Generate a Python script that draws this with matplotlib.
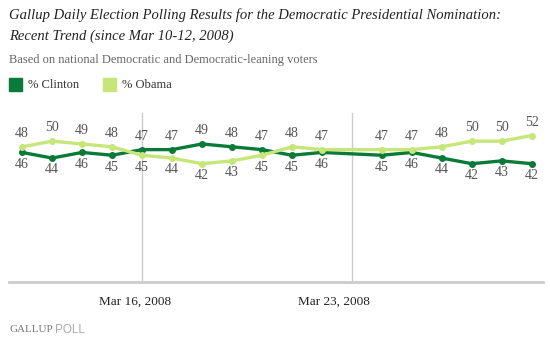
import datetime as dt

import matplotlib
matplotlib.use("Agg")
import matplotlib.pyplot as plt
import matplotlib.dates as mdates
import matplotlib.transforms as mtransforms
from matplotlib.patches import Rectangle

# daily rolling averages, no release on Mar 23
dates = [dt.datetime(2008, 3, d) for d in range(12, 23)] + \
        [dt.datetime(2008, 3, d) for d in range(24, 30)]
clinton = [46, 44, 46, 45, 47, 47, 49, 48, 47, 45, 46, 45, 46, 44, 42, 43, 42]
obama = [48, 50, 49, 48, 45, 44, 42, 43, 45, 48, 47, 47, 47, 48, 50, 50, 52]
tick_dates = [dt.datetime(2008, 3, 16), dt.datetime(2008, 3, 23)]

title1 = "Gallup Daily Election Polling Results for the Democratic Presidential Nomination:"
title2 = "Recent Trend (since Mar 10-12, 2008)"
subtitle = "Based on national Democratic and Democratic-leaning voters"

dark = "#0a7a38"
light = "#c6e67a"
serif = ["Liberation Serif", "DejaVu Serif"]

fig = plt.figure(figsize=(5.5, 3.41), dpi=100)
ax = fig.add_axes([9 / 550, 59 / 341, 534 / 550, 169 / 341])

ax.plot(dates, clinton, color=dark, lw=2.4, marker="o", ms=4, zorder=3)
ax.plot(dates, obama, color=light, lw=2.4, marker="o", ms=4, zorder=4)

for d, c, o in zip(dates, clinton, obama):
    hi, lo = (c, o) if c > o else (o, c)
    ax.annotate(str(hi), (d, hi), xytext=(0, 9.5), textcoords="offset points",
                ha="center", va="center", fontsize=10, color="#555", family=serif)
    ax.annotate(str(lo), (d, lo), xytext=(0, -8.5), textcoords="offset points",
                ha="center", va="center", fontsize=10, color="#555", family=serif)

ax.set_ylim(0, 60)
ax.set_xlim(dates[0] - dt.timedelta(hours=10.5), dates[-1] + dt.timedelta(hours=9))
ax.set_yticks([])
ax.set_xticks(tick_dates)
ax.xaxis.set_major_formatter(mdates.DateFormatter("%b %d, %Y"))
ax.tick_params(axis="x", length=0, pad=10, labelsize=9.5, labelcolor="#222")
for lab, dx in zip(ax.get_xticklabels(), [-7, -18]):
    lab.set_family(serif)
    lab.set_transform(lab.get_transform() +
                      mtransforms.ScaledTranslation(dx / 100, 0, fig.dpi_scale_trans))
ax.grid(axis="x", color="#cccccc", lw=1)
for s in ["top", "left", "right"]:
    ax.spines[s].set_visible(False)
ax.spines["bottom"].set_color("#cccccc")
ax.spines["bottom"].set_linewidth(2)

fig.text(9 / 550, 1 - 15 / 341, title1, ha="left", va="center", fontsize=10.5,
         style="italic", family=serif, color="#222")
fig.text(9 / 550, 1 - 36 / 341, title2, ha="left", va="center", fontsize=10.5,
         style="italic", family=serif, color="#222")
fig.text(9 / 550, 1 - 60 / 341, subtitle, ha="left", va="center", fontsize=9,
         family=serif, color="#666")

# legend
for x0, col, name in [(9, dark, "% Clinton"), (103, light, "% Obama")]:
    fig.patches.append(Rectangle((x0 / 550, 1 - 91 / 341), 13 / 550, 13 / 341,
                                 transform=fig.transFigure, color=col))
    fig.text((x0 + 19) / 550, 1 - 85 / 341, name, ha="left", va="center",
             fontsize=9, family=serif, color="#333")

fig.text(9 / 550, 1 - 330 / 341, "GALLUP", ha="left", va="center", fontsize=8,
         family=serif, color="#777")
fig.text(55 / 550, 1 - 330 / 341, "POLL", ha="left", va="center", fontsize=8.5,
         family=["Liberation Sans", "DejaVu Sans"], color="#aaa")

fig.savefig("out.png", dpi=100)
